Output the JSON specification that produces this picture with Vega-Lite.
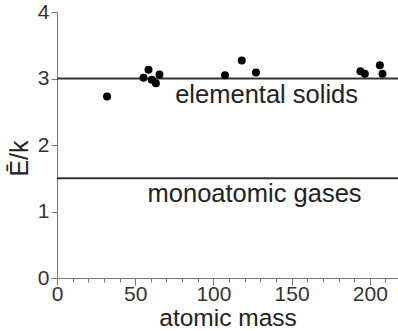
{
  "$schema": "https://vega.github.io/schema/vega-lite/v6.json",
  "width": 341,
  "height": 266,
  "autosize": "none",
  "padding": {"left": 57, "top": 12, "right": 0, "bottom": 53},
  "background": "white",
  "config": {"view": {"stroke": null}, "font": "Liberation Sans"},
  "datasets": {
    "solids": [
      {"mass": 32, "ratio": 2.73},
      {"mass": 55.3, "ratio": 3.01},
      {"mass": 58.5, "ratio": 3.13},
      {"mass": 60.6, "ratio": 2.98},
      {"mass": 63.2, "ratio": 2.93},
      {"mass": 65.5, "ratio": 3.06},
      {"mass": 107.4, "ratio": 3.05},
      {"mass": 118.1, "ratio": 3.27},
      {"mass": 127.2, "ratio": 3.09},
      {"mass": 194, "ratio": 3.11},
      {"mass": 196.8, "ratio": 3.07},
      {"mass": 206.4, "ratio": 3.2},
      {"mass": 208.1, "ratio": 3.07}
    ],
    "lines": [{"ratio": 3}, {"ratio": 1.5}],
    "labels": [
      {"mass": 134, "ratio": 2.627, "text": "elemental solids"},
      {"mass": 126.3, "ratio": 1.147, "text": "monoatomic gases"}
    ]
  },
  "resolve": {"axis": {"x": "independent"}},
  "layer": [
    {
      "mark": {"type": "rule", "color": "#777", "strokeWidth": 1},
      "encoding": {"y": {"datum": 4, "type": "quantitative"}}
    },
    {
      "data": {"name": "lines"},
      "mark": {"type": "rule", "color": "#333", "strokeWidth": 1.8},
      "encoding": {"y": {"field": "ratio", "type": "quantitative"}}
    },
    {
      "data": {"name": "solids"},
      "mark": {"type": "circle", "size": 64, "color": "black", "opacity": 1},
      "encoding": {
        "x": {
          "field": "mass", "type": "quantitative",
          "scale": {"domain": [0, 218], "nice": false},
          "axis": {
            "orient": "bottom",
            "title": "atomic mass",
            "values": [0, 50, 100, 150, 200],
            "tickSize": 7,
            "labelOverlap": false,
            "labelFlush": false,
            "grid": false,
            "domainColor": "#777",
            "tickColor": "#777",
            "labelColor": "#333",
            "labelFontSize": 21,
            "labelPadding": -1.5,
            "titleFontSize": 24.5,
            "titleFontWeight": "normal",
            "titleColor": "#222",
            "titlePadding": 2
          }
        },
        "y": {
          "field": "ratio", "type": "quantitative",
          "scale": {"domain": [0, 4], "nice": false},
          "axis": {
            "title": "Ē/k",
            "values": [0, 1, 2, 3, 4],
            "format": "d",
            "tickSize": 6,
            "grid": false,
            "domainColor": "#777",
            "tickColor": "#777",
            "labelColor": "#333",
            "labelFontSize": 21,
            "labelPadding": 2,
            "titleFontSize": 25,
            "titleFontWeight": "normal",
            "titleColor": "#222",
            "titleY": 146,
            "titleX": -38,
            "titleBaseline": "middle"
          }
        }
      }
    },
    {
      "data": {"name": "labels"},
      "mark": {"type": "text", "fontSize": 25.5, "baseline": "alphabetic", "align": "center", "color": "#222"},
      "encoding": {
        "x": {
          "field": "mass", "type": "quantitative",
          "axis": {
            "orient": "bottom",
            "title": null,
            "values": [10, 20, 30, 40, 60, 70, 80, 90, 110, 120, 130, 140, 160, 170, 180, 190, 210],
            "labels": false,
            "domain": false,
            "grid": false,
            "tickSize": 4,
            "tickColor": "#777"
          }
        },
        "y": {"field": "ratio", "type": "quantitative"},
        "text": {"field": "text"}
      }
    }
  ]
}
